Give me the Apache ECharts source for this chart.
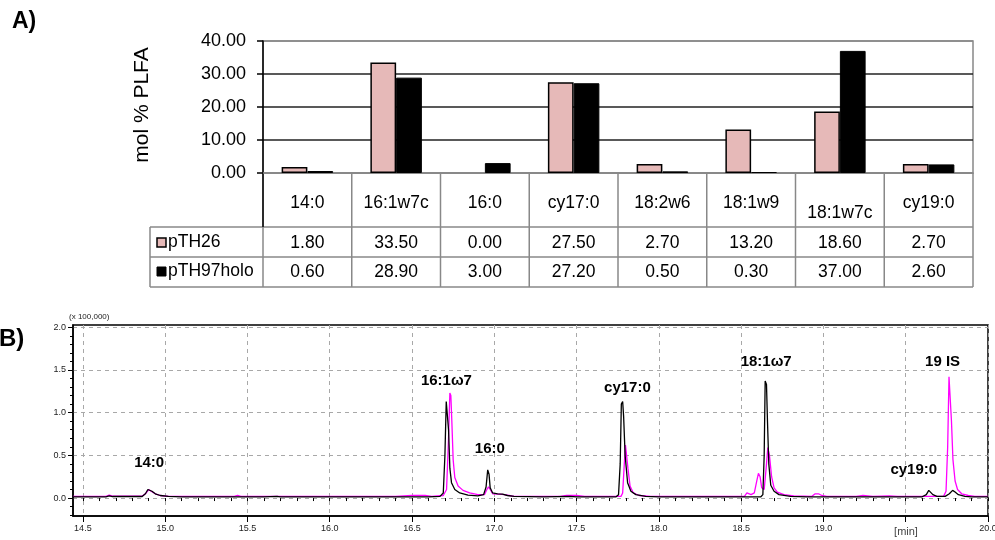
<!DOCTYPE html>
<html><head><meta charset="utf-8">
<script src="https://cdn.jsdelivr.net/npm/echarts@6/dist/echarts.min.js"></script>
<style>html,body{margin:0;padding:0;background:#fff}#c{width:995px;height:540px}</style>
</head><body><div id="c"></div>
<script>
// ---------- Panel A data ----------
const categories = ['14:0','16:1w7c','16:0','cy17:0','18:2w6','18:1w9','18:1w7c','cy19:0'];
const pTH26 = [1.80, 33.50, 0.00, 27.50, 2.70, 13.20, 18.60, 2.70];
const pTH97holo = [0.60, 28.90, 3.00, 27.20, 0.50, 0.30, 37.00, 2.60];
const seriesNames = ['pTH26', 'pTH97holo'];
const barYTicks = [0, 10, 20, 30, 40];

// ---------- Panel B data ----------
const chromXGrid = [14.5, 15.0, 15.5, 16.0, 16.5, 17.0, 17.5, 18.0, 18.5, 19.0, 19.5, 20.0];
const chromXLabels = [14.5, 15.0, 15.5, 16.0, 16.5, 17.0, 17.5, 18.0, 18.5, 19.0, 20.0];
const chromYTicks = [0.0, 0.5, 1.0, 1.5, 2.0];
const traceBlack = [
 [14.44,0.015],[14.64,0.015],[14.66,0.025],[14.68,0.018],[14.86,0.018],[14.88,0.05],[14.895,0.1],[14.905,0.11],[14.92,0.08],[14.94,0.05],[14.97,0.03],[15.02,0.02],[15.1,0.015],[15.6,0.015],[15.68,0.02],[15.7,0.015],
 [16.6,0.015],[16.67,0.02],[16.69,0.06],[16.7,0.5],[16.708,1.13],[16.716,1.15],[16.722,0.8],[16.73,0.35],[16.74,0.18],[16.76,0.1],[16.79,0.06],[16.84,0.035],[16.9,0.025],[16.935,0.04],[16.95,0.13],[16.96,0.33],[16.968,0.28],[16.975,0.12],[16.99,0.06],[17.02,0.05],[17.05,0.045],[17.08,0.03],[17.12,0.02],[17.3,0.015],[17.46,0.02],[17.5,0.015],
 [17.74,0.015],[17.755,0.04],[17.765,0.4],[17.772,1.1],[17.78,1.13],[17.786,0.95],[17.795,0.5],[17.81,0.18],[17.83,0.08],[17.86,0.04],[17.92,0.02],[18.0,0.015],
 [18.62,0.015],[18.632,0.04],[18.64,0.5],[18.646,1.37],[18.654,1.33],[18.66,0.9],[18.668,0.4],[18.68,0.15],[18.7,0.08],[18.73,0.04],[18.8,0.02],[18.9,0.015],
 [19.6,0.015],[19.625,0.04],[19.64,0.09],[19.65,0.08],[19.665,0.04],[19.69,0.02],[19.74,0.02],[19.765,0.05],[19.785,0.09],[19.8,0.07],[19.82,0.04],[19.86,0.02],[19.9,0.015],[20.0,0.015]
];
const traceMagenta = [
 [14.44,0.02],[14.64,0.02],[14.66,0.035],[14.68,0.022],[14.86,0.022],[14.885,0.06],[14.9,0.1],[14.915,0.08],[14.94,0.05],[14.97,0.03],[15.02,0.02],[15.42,0.02],[15.44,0.03],[15.46,0.02],[16.4,0.02],[16.5,0.03],[16.58,0.03],[16.62,0.02],
 [16.69,0.03],[16.71,0.1],[16.722,0.7],[16.73,1.23],[16.736,1.2],[16.742,0.9],[16.75,0.45],[16.76,0.24],[16.78,0.14],[16.81,0.09],[16.85,0.06],[16.9,0.04],[16.94,0.04],[16.955,0.1],[16.965,0.13],[16.975,0.1],[16.99,0.05],[17.03,0.045],[17.06,0.04],[17.09,0.03],[17.12,0.02],[17.4,0.02],[17.44,0.03],[17.5,0.03],[17.55,0.02],
 [17.77,0.02],[17.78,0.06],[17.79,0.4],[17.797,0.62],[17.805,0.6],[17.812,0.35],[17.825,0.14],[17.845,0.06],[17.88,0.03],[17.95,0.02],
 [18.52,0.02],[18.535,0.06],[18.545,0.07],[18.56,0.04],[18.58,0.06],[18.595,0.2],[18.605,0.29],[18.615,0.25],[18.625,0.12],[18.64,0.1],[18.652,0.35],[18.662,0.59],[18.672,0.5],[18.685,0.25],[18.7,0.12],[18.72,0.07],[18.76,0.04],[18.82,0.025],[18.93,0.02],[18.95,0.05],[18.97,0.05],[18.99,0.03],[19.02,0.02],[19.2,0.02],[19.24,0.03],[19.3,0.02],[19.4,0.025],[19.45,0.02],
 [19.73,0.02],[19.745,0.08],[19.755,0.6],[19.763,1.42],[19.771,1.42],[19.778,0.9],[19.787,0.45],[19.8,0.2],[19.815,0.1],[19.84,0.05],[19.88,0.03],[19.92,0.02],[20.0,0.02]
];
const peakLabels = [
 {name:'14:0', value:[14.903, 0.41]},
 {name:'16:1ω7', value:[16.709, 1.37]},
 {name:'16:0', value:[16.973, 0.575]},
 {name:'cy17:0', value:[17.809, 1.29]},
 {name:'18:1ω7', value:[18.652, 1.59]},
 {name:'19 IS', value:[19.724, 1.59]},
 {name:'cy19:0', value:[19.549, 0.33]}
];

const FONT = 'Liberation Sans, Arial, sans-serif';
const minorX = [];
for (let i = 145; i <= 200; i++) minorX.push(i / 10);
const minorY = [];
for (let i = -2; i <= 20; i++) minorY.push(i / 10);

const chart = echarts.init(document.getElementById('c'), null, {renderer: 'canvas'});
const pinkData = pTH26.map(v => v === 0 ? {value: v, itemStyle: {borderWidth: 0}} : v);
const option = {
  animation: false,
  backgroundColor: '#fff',
  textStyle: {fontFamily: FONT},
  grid: [
    {left: 263, top: 41, width: 710, height: 132, show: true, borderColor: '#888', borderWidth: 1.5, outerBoundsMode: 'none', containLabel: false},
    {left: 73, top: 325, width: 915, height: 191, show: true, borderColor: '#000', borderWidth: 1.5, outerBoundsMode: 'none', containLabel: false}
  ],
  xAxis: [
    {type: 'category', gridIndex: 0, data: categories,
     axisLine: {show: true, lineStyle: {color: '#888', width: 1.5}},
     axisTick: {show: false}, axisLabel: {show: false}, splitLine: {show: false}},
    {type: 'value', gridIndex: 1, min: 14.44, max: 20.0, position: 'bottom',
     axisLine: {show: true, onZero: false, lineStyle: {color: '#000', width: 1.5}},
     axisTick: {show: true, customValues: chromXGrid, length: 6, lineStyle: {color: '#000'}},
     axisLabel: {show: true, customValues: chromXLabels, formatter: v => v.toFixed(1), fontSize: 9, color: '#222', margin: 8, fontFamily: FONT},
     splitLine: {show: true, lineStyle: {color: '#a8a8a8', type: [4, 4], width: 1}}},
    {type: 'value', gridIndex: 1, min: 14.44, max: 20.0, position: 'bottom',
     axisLine: {show: false}, axisLabel: {show: false}, splitLine: {show: false},
     axisTick: {show: true, customValues: minorX, length: 3, lineStyle: {color: '#000'}}}
  ],
  yAxis: [
    {type: 'value', gridIndex: 0, min: 0, max: 40, interval: 10,
     axisLine: {show: true, lineStyle: {color: '#000', width: 1.5}},
     axisTick: {show: true, inside: false, length: 6, lineStyle: {color: '#000', width: 1.5}},
     axisLabel: {formatter: v => v.toFixed(2), fontSize: 18, color: '#000', margin: 17, fontFamily: FONT},
     splitLine: {show: true, lineStyle: {color: ['#888', '#222', '#222', '#222', '#888'], width: 1.5}}},
    {type: 'value', gridIndex: 1, min: -0.21, max: 2.026, position: 'left',
     axisLine: {show: true, onZero: false, lineStyle: {color: '#000', width: 1.5}},
     axisTick: {show: true, customValues: chromYTicks, length: 5, lineStyle: {color: '#000'}},
     axisLabel: {show: true, customValues: chromYTicks, formatter: v => v.toFixed(1), fontSize: 9, color: '#222', margin: 7, fontFamily: FONT},
     splitLine: {show: true, lineStyle: {color: '#a8a8a8', type: [4, 4], width: 1}}},
    {type: 'value', gridIndex: 1, min: -0.21, max: 2.026, position: 'left',
     axisLine: {show: false}, axisLabel: {show: false}, splitLine: {show: false},
     axisTick: {show: true, customValues: minorY, length: 3, lineStyle: {color: '#000'}}}
  ],
  series: [
    {name: seriesNames[0], type: 'bar', xAxisIndex: 0, yAxisIndex: 0, data: pinkData,
     barGap: '0%', barCategoryGap: '42%',
     itemStyle: {color: '#E6B9B8', borderColor: '#000', borderWidth: 1.5}},
    {name: seriesNames[1], type: 'bar', xAxisIndex: 0, yAxisIndex: 0, data: pTH97holo,
     barGap: '0%', barCategoryGap: '42%',
     itemStyle: {color: '#000', borderColor: '#000', borderWidth: 1}},
    {name: 'black', type: 'line', xAxisIndex: 1, yAxisIndex: 1, data: traceBlack,
     showSymbol: false, symbol: 'none', lineStyle: {color: '#000', width: 1.3}, z: 3},
    {name: 'magenta', type: 'line', xAxisIndex: 1, yAxisIndex: 1, data: traceMagenta,
     showSymbol: false, symbol: 'none', lineStyle: {color: '#ff00ff', width: 1.3}, z: 2},
    {name: 'peaks', type: 'scatter', xAxisIndex: 1, yAxisIndex: 1, data: peakLabels,
     symbolSize: 0, silent: true, z: 5, itemStyle: {opacity: 1},
     label: {show: true, position: 'inside', formatter: p => p.name, fontSize: 15, fontWeight: 'bold', color: '#000', opacity: 1, textBorderWidth: 0, fontFamily: FONT}}
  ]
};
chart.setOption(option);

// ---------- data table under panel A + free texts ----------
const g = [];
const TBL_L = 150, TBL_R = 973, TOP = 173, H1 = 227, H2 = 257, H3 = 287, AX_L = 263;
const lineStyle = {stroke: '#888', lineWidth: 1.5};
function hline(x1, x2, y) { g.push({type: 'line', shape: {x1, y1: y, x2, y2: y}, style: lineStyle, silent: true}); }
function vline(x, y1, y2) { g.push({type: 'line', shape: {x1: x, y1, x2: x, y2}, style: lineStyle, silent: true}); }
function txt(x, y, text, opts) {
  g.push({type: 'text', x, y, silent: true, style: Object.assign({text, fill: '#000', font: '17.5px ' + FONT, align: 'center', verticalAlign: 'middle'}, opts || {})});
}
hline(TBL_L, TBL_R, H1); hline(TBL_L, TBL_R, H2); hline(TBL_L, TBL_R, H3);
vline(TBL_L, H1, H3);
const colW = 710 / categories.length;
for (let i = 0; i <= categories.length; i++) vline(AX_L + i * colW, TOP, H3);
g.push({type: 'line', shape: {x1: AX_L, y1: TOP, x2: AX_L, y2: H1}, style: {stroke: '#000', lineWidth: 1.5}, silent: true});
categories.forEach((c, i) => {
  const cx = chart.convertToPixel({xAxisIndex: 0}, c);
  txt(cx, c === '18:1w7c' ? 213 : 203, c);
  txt(cx, 243, pTH26[i].toFixed(2));
  txt(cx, 272, pTH97holo[i].toFixed(2));
});
g.push({type: 'rect', shape: {x: 157, y: 238, width: 9, height: 9}, style: {fill: '#E6B9B8', stroke: '#000', lineWidth: 1.5}, silent: true});
g.push({type: 'rect', shape: {x: 157, y: 267, width: 9, height: 9}, style: {fill: '#000', stroke: '#000', lineWidth: 1}, silent: true});
txt(168, 242, seriesNames[0], {align: 'left'});
txt(168, 271, seriesNames[1], {align: 'left'});
// titles and axis names
g.push({type: 'text', x: 142, y: 105, rotation: Math.PI / 2, silent: true,
  style: {text: 'mol % PLFA', fill: '#000', font: '21px ' + FONT, align: 'center', verticalAlign: 'middle'}});
txt(12, 22, 'A)', {align: 'left', font: 'bold 23px ' + FONT});
txt(-1, 339, 'B)', {align: 'left', font: 'bold 24px ' + FONT});
txt(69, 317, '(x 100,000)', {align: 'left', font: '8px ' + FONT, fill: '#222'});
txt(906, 532, '[min]', {font: '11px ' + FONT, fill: '#444'});
chart.setOption({graphic: {elements: g}});
</script>
</body></html>
